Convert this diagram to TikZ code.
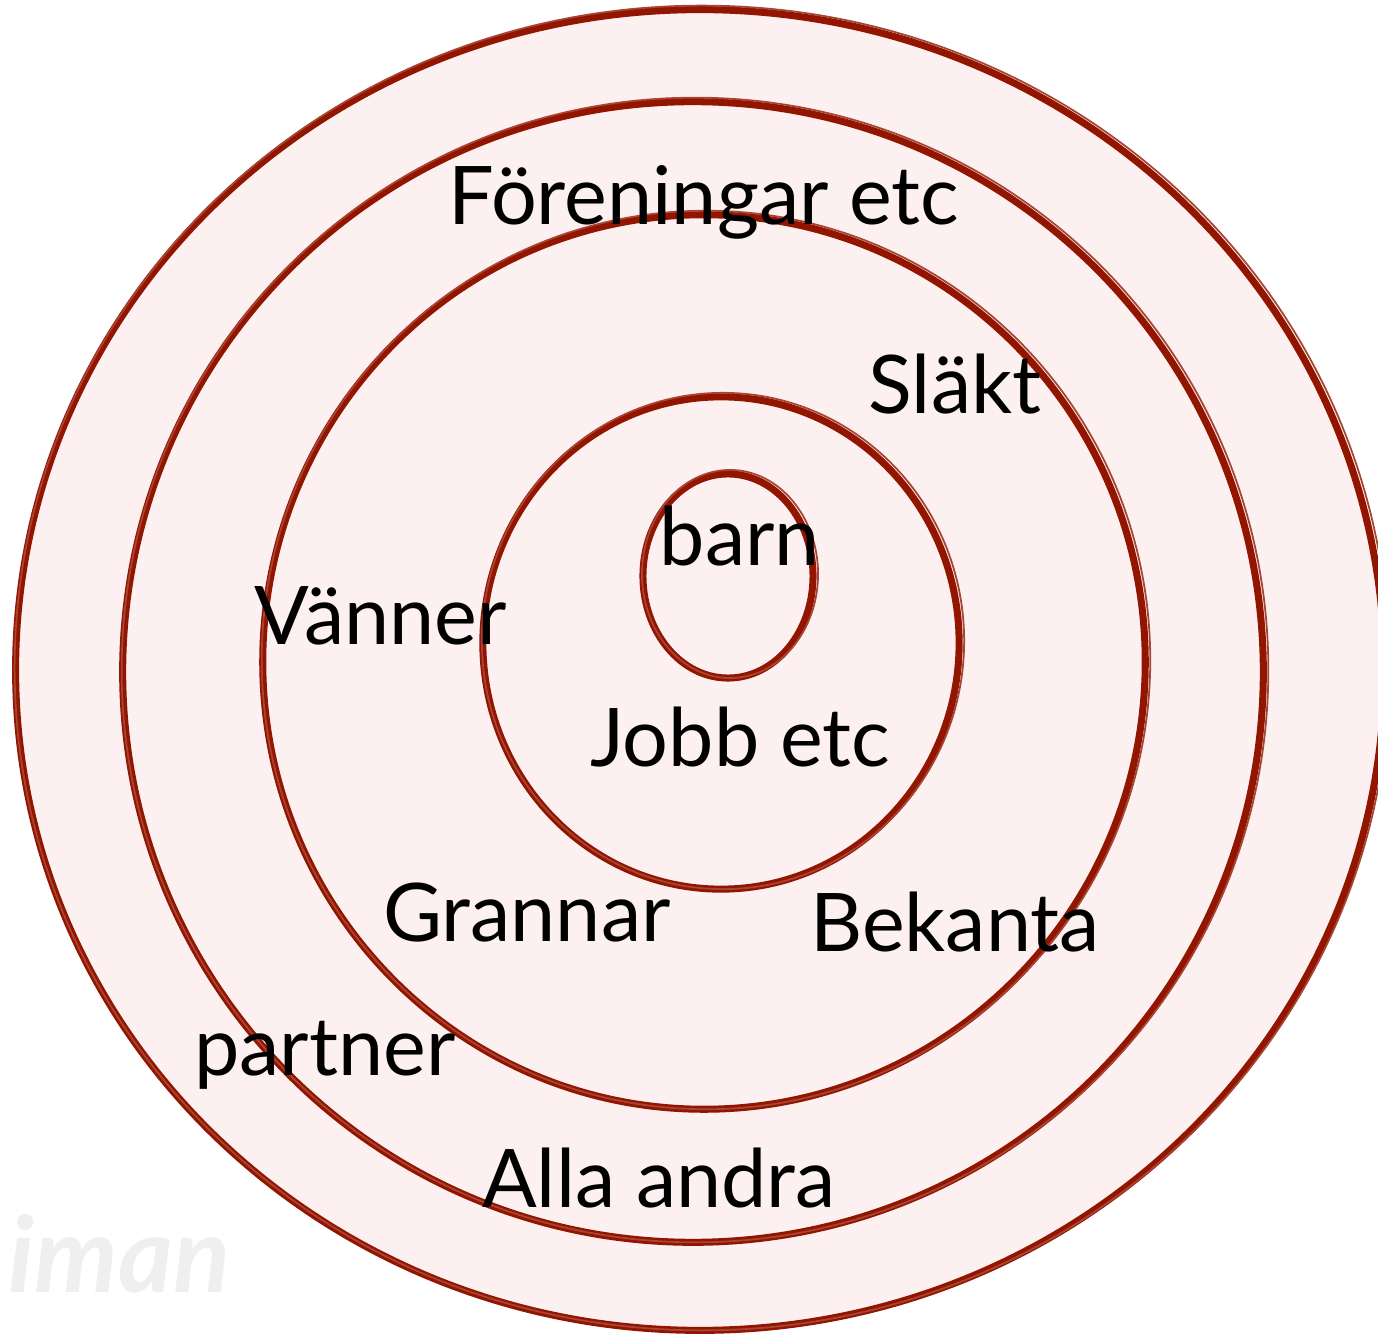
\documentclass[tikz,border=0pt]{standalone}
\usepackage{fontspec}
\setmainfont{Lato}
\usepackage{xcolor}
\usepackage{tikz}
\usetikzlibrary{positioning}
\definecolor{ringred}{HTML}{921500}
\definecolor{ringfill}{HTML}{FDF0F1}
\definecolor{markgray}{HTML}{EFEFEF}

\begin{document}
\begin{tikzpicture}[x=0.01cm, y=-0.01cm,
    ring/.style={draw=ringred, line width=2pt},
    sketch/.style={draw=ringred!80, line width=0.5pt},
    lbl/.style={anchor=base, inner sep=0pt, font=\fontsize{23}{27}\selectfont},
]
    \useasboundingbox (0,0) rectangle (1378,1334);

    % watermark
    \node[anchor=base west, inner sep=0pt, text=markgray,
          font=\fontsize{30}{34}\selectfont\bfseries\itshape] (mark) at (8,1293) {iman};

    % rings, outer to inner
    \fill[ringfill] (700,670) ellipse [x radius=6.84cm, y radius=6.60cm];
    \draw[ring] (700,670) ellipse [x radius=6.84cm, y radius=6.60cm];
    \draw[sketch] (702,668) ellipse [x radius=6.87cm, y radius=6.62cm];
    \draw[ring] (693,672) ellipse [x radius=5.70cm, y radius=5.70cm];
    \draw[sketch] (695,670) ellipse [x radius=5.73cm, y radius=5.72cm];
    \draw[ring] (704,662) ellipse [x radius=4.41cm, y radius=4.47cm];
    \draw[sketch] (706,660) ellipse [x radius=4.44cm, y radius=4.49cm];
    \draw[ring] (721,643) ellipse [x radius=2.38cm, y radius=2.46cm];
    \draw[sketch] (723,641) ellipse [x radius=2.41cm, y radius=2.48cm];
    \draw[ring] (728,576) ellipse [x radius=0.85cm, y radius=1.02cm];
    \draw[sketch] (730,574) ellipse [x radius=0.88cm, y radius=1.04cm];

    % labels
    \node[lbl] (foreningar) at (704,225) {Föreningar etc};
    \node[lbl] (slakt) at (955,414) {Släkt};
    \node[lbl] (barn) at (740,566) {barn};
    \node[lbl] (vanner) at (381,645) {Vänner};
    \node[lbl] (jobb) at (740,767) {Jobb etc};
    \node[lbl] (grannar) at (527,942) {Grannar};
    \node[lbl] (bekanta) at (955,952) {Bekanta};
    \node[lbl] (partner) at (325,1076) {partner};
    \node[lbl] (alla) at (659,1208) {Alla andra};
\end{tikzpicture}
\end{document}
